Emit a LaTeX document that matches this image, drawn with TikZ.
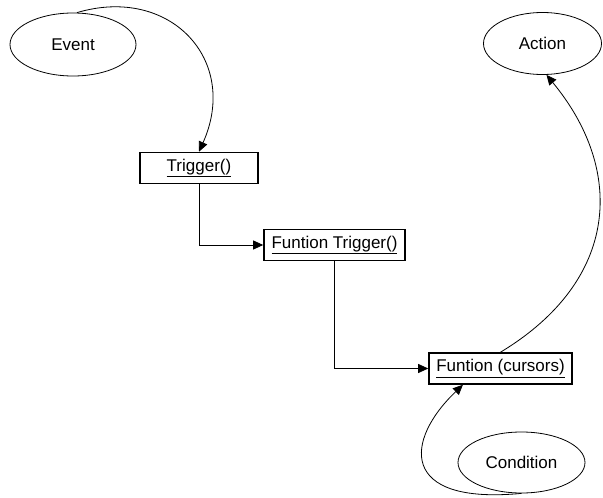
\documentclass[tikz,border=0pt]{standalone}
\usepackage{fontspec}
\setmainfont{Liberation Sans}
\usetikzlibrary{shapes.geometric,arrows.meta,calc}
\begin{document}
\begin{tikzpicture}[x=1pt,y=-1pt,
  every node/.style={font=\fontsize{17}{20}\selectfont, inner sep=0pt},
  stateoval/.style={ellipse, draw, line width=0.8pt},
  funcbox/.style={rectangle, draw, line width=1.6pt, minimum height=31pt},
  flow/.style={line width=0.8pt, -{Triangle[length=10pt,width=9pt]}}]
  \useasboundingbox (0,0) rectangle (603,498);

  % events, actions and conditions
  \node[stateoval, minimum width=126pt, minimum height=63pt] (ev) at (73,44.5) {Event};
  \node[stateoval, minimum width=118pt, minimum height=62pt] (ac) at (542.5,43.5) {Action};
  \node[stateoval, minimum width=127pt, minimum height=61pt] (cond) at (521.5,462.5) {Condition};

  % function calls
  \node[funcbox, minimum width=118pt] (trig) at (199,168) {\underline{Trigger()}};
  \node[funcbox, minimum width=141pt] (ftrig) at (334.5,245) {\underline{Funtion Trigger()}};
  \node[funcbox, minimum width=143pt] (cur) at (500.5,368.5) {\underline{Funtion (cursors)}};

  % connectors
  \draw[flow] ($(ev.north)+(4,0)$) .. controls (170,-15) and (240,60) .. (trig.north);
  \draw[flow] (trig.south) |- (ftrig.west);
  \draw[flow] (ftrig.south) |- (cur.west);
  \draw[flow] (cur.north) .. controls (620,280) and (625,170) .. ($(ac.south)+(4,0)$);
  \draw[flow] (cond.south) .. controls (398,505) and (405,440) .. ($(cur.south west)!0.24!(cur.south east)$);
\end{tikzpicture}
\end{document}
